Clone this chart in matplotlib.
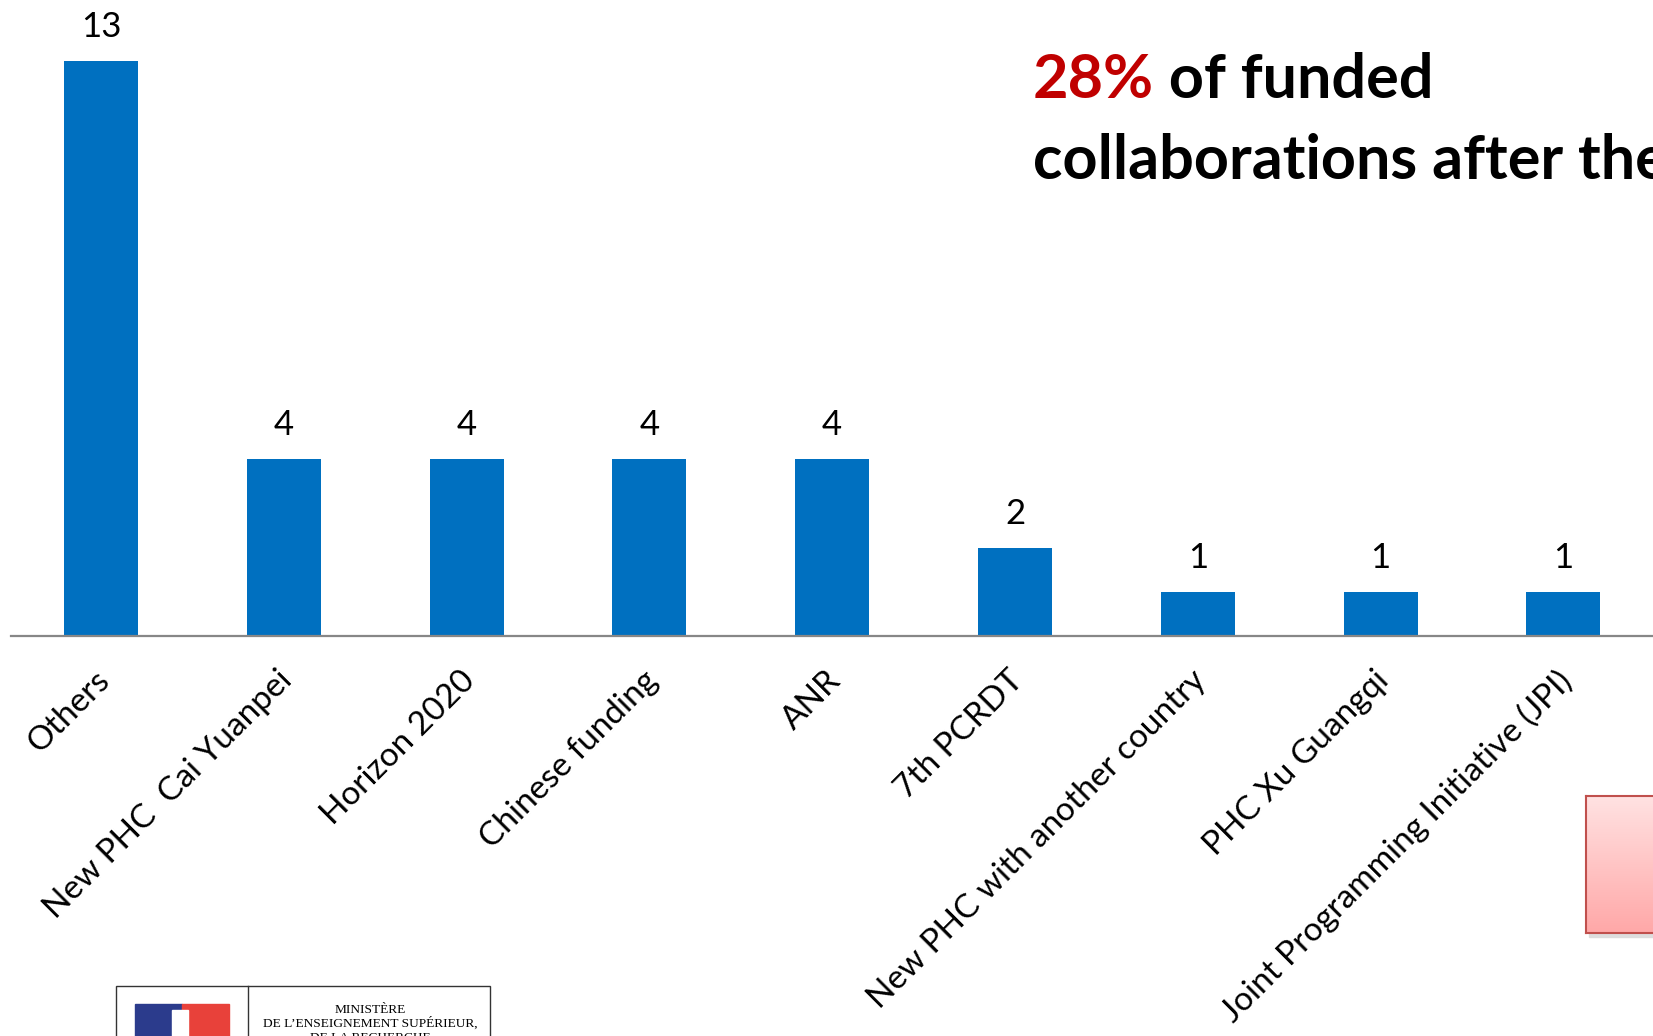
import numpy as np
import matplotlib
matplotlib.use("Agg")
import matplotlib.pyplot as plt
from matplotlib.patches import Rectangle
from matplotlib.transforms import ScaledTranslation

plt.rcParams['font.family'] = ['Lato', 'DejaVu Sans']

categories = ["Others", "New PHC  Cai Yuanpei", "Horizon 2020", "Chinese funding", "ANR",
              "7th PCRDT", "New PHC with another country", "PHC Xu Guangqi",
              "Joint Programming Initiative (JPI)"]
counts = [13, 4, 4, 4, 4, 2, 1, 1, 1]

W, H = 1653, 1036
fig = plt.figure(figsize=(W / 100, H / 100), dpi=100)

# main bar axes, runs off the right edge like the slide crop
ax = fig.add_axes([10.5 / W, 1 - 636 / H, 1 - 10.5 / W, 636 / H])
x = np.arange(len(categories))
bars = ax.bar(x, counts, width=0.405, color="#0070C0")
ax.set_xlim(-0.495, 8.49)
ax.set_ylim(0, 14.38)

for sp in ["top", "right", "left"]:
    ax.spines[sp].set_visible(False)
ax.spines["bottom"].set_color("#878787")
ax.spines["bottom"].set_linewidth(1.6)
ax.set_yticks([])
ax.set_xticks(x)
ax.set_xticklabels(categories, rotation=45, ha="right", va="top",
                   rotation_mode="anchor", fontsize=24)
ax.tick_params(axis="x", length=0, pad=21)
shift = ScaledTranslation(-7 / 100, 0, fig.dpi_scale_trans)
for lab in ax.get_xticklabels():
    lab.set_transform(lab.get_transform() + shift)

for b, v in zip(bars, counts):
    ax.annotate(str(v), (b.get_x() + b.get_width() / 2, v), xytext=(0, 17),
                textcoords="offset points", ha="center", va="baseline", fontsize=25)

# headline text
t1 = fig.text(1033 / W, 1 - 98 / H, "28%", color="#C00000", fontsize=44,
              fontweight="bold", va="baseline")
ax.annotate(" of funded", xy=(1, 0), xycoords=t1, va="bottom", ha="left",
            fontsize=44, fontweight="bold", color="black", annotation_clip=False)
fig.text(1033 / W, 1 - 179 / H, "collaborations after the", color="black",
         fontsize=44, fontweight="bold", va="baseline")

# pink callout box at right edge (cut off)
bx = fig.add_axes([1586 / W, 1 - 933 / H, (W - 1586) / W + 0.01, 137 / H])
grad = np.linspace(0, 1, 100).reshape(-1, 1)
top_c = np.array([255, 226, 226]) / 255
bot_c = np.array([255, 168, 168]) / 255
img = top_c + (bot_c - top_c) * grad[:, :, None]
bx.imshow(img, aspect="auto", extent=[0, 1, 0, 1])
bx.set_xticks([])
bx.set_yticks([])
for sp in bx.spines.values():
    sp.set_color("#C0504D")
    sp.set_linewidth(1.5)
fig.patches.append(Rectangle((1589 / W, 1 - 937 / H), 0.1, 137 / H,
                             transform=fig.transFigure, color="#dddddd",
                             zorder=-1))

# ministry logo at bottom left (cut off)
fig.patches.append(Rectangle((116 / W, -0.01), (490 - 116) / W, (1036 - 986) / H + 0.01,
                             transform=fig.transFigure, fill=False,
                             edgecolor="#333333", linewidth=1))
fig.lines.append(plt.Line2D([248 / W, 248 / W], [0, 1 - 986 / H],
                            transform=fig.transFigure, color="#333333", linewidth=1))
fig.patches.append(Rectangle((135 / W, 0), 47 / W, (1036 - 1004) / H,
                             transform=fig.transFigure, color="#2B3B8C"))
fig.patches.append(Rectangle((182 / W, 0), 47 / W, (1036 - 1004) / H,
                             transform=fig.transFigure, color="#E8413A"))
fig.patches.append(Rectangle((172 / W, 0), 16 / W, (1036 - 1010) / H,
                             transform=fig.transFigure, color="white"))
serif = ["Liberation Serif", "DejaVu Serif"]
fig.text(370 / W, 1 - 1013 / H, "MINISTÈRE", family=serif, fontsize=9.6,
         ha="center", va="baseline")
fig.text(370 / W, 1 - 1027 / H, "DE L\u2019ENSEIGNEMENT SUPÉRIEUR,", family=serif,
         fontsize=9.6, ha="center", va="baseline")
fig.text(370 / W, 1 - 1041 / H, "DE LA RECHERCHE", family=serif, fontsize=9.6,
         ha="center", va="baseline")

fig.savefig("out.png", dpi=100)
